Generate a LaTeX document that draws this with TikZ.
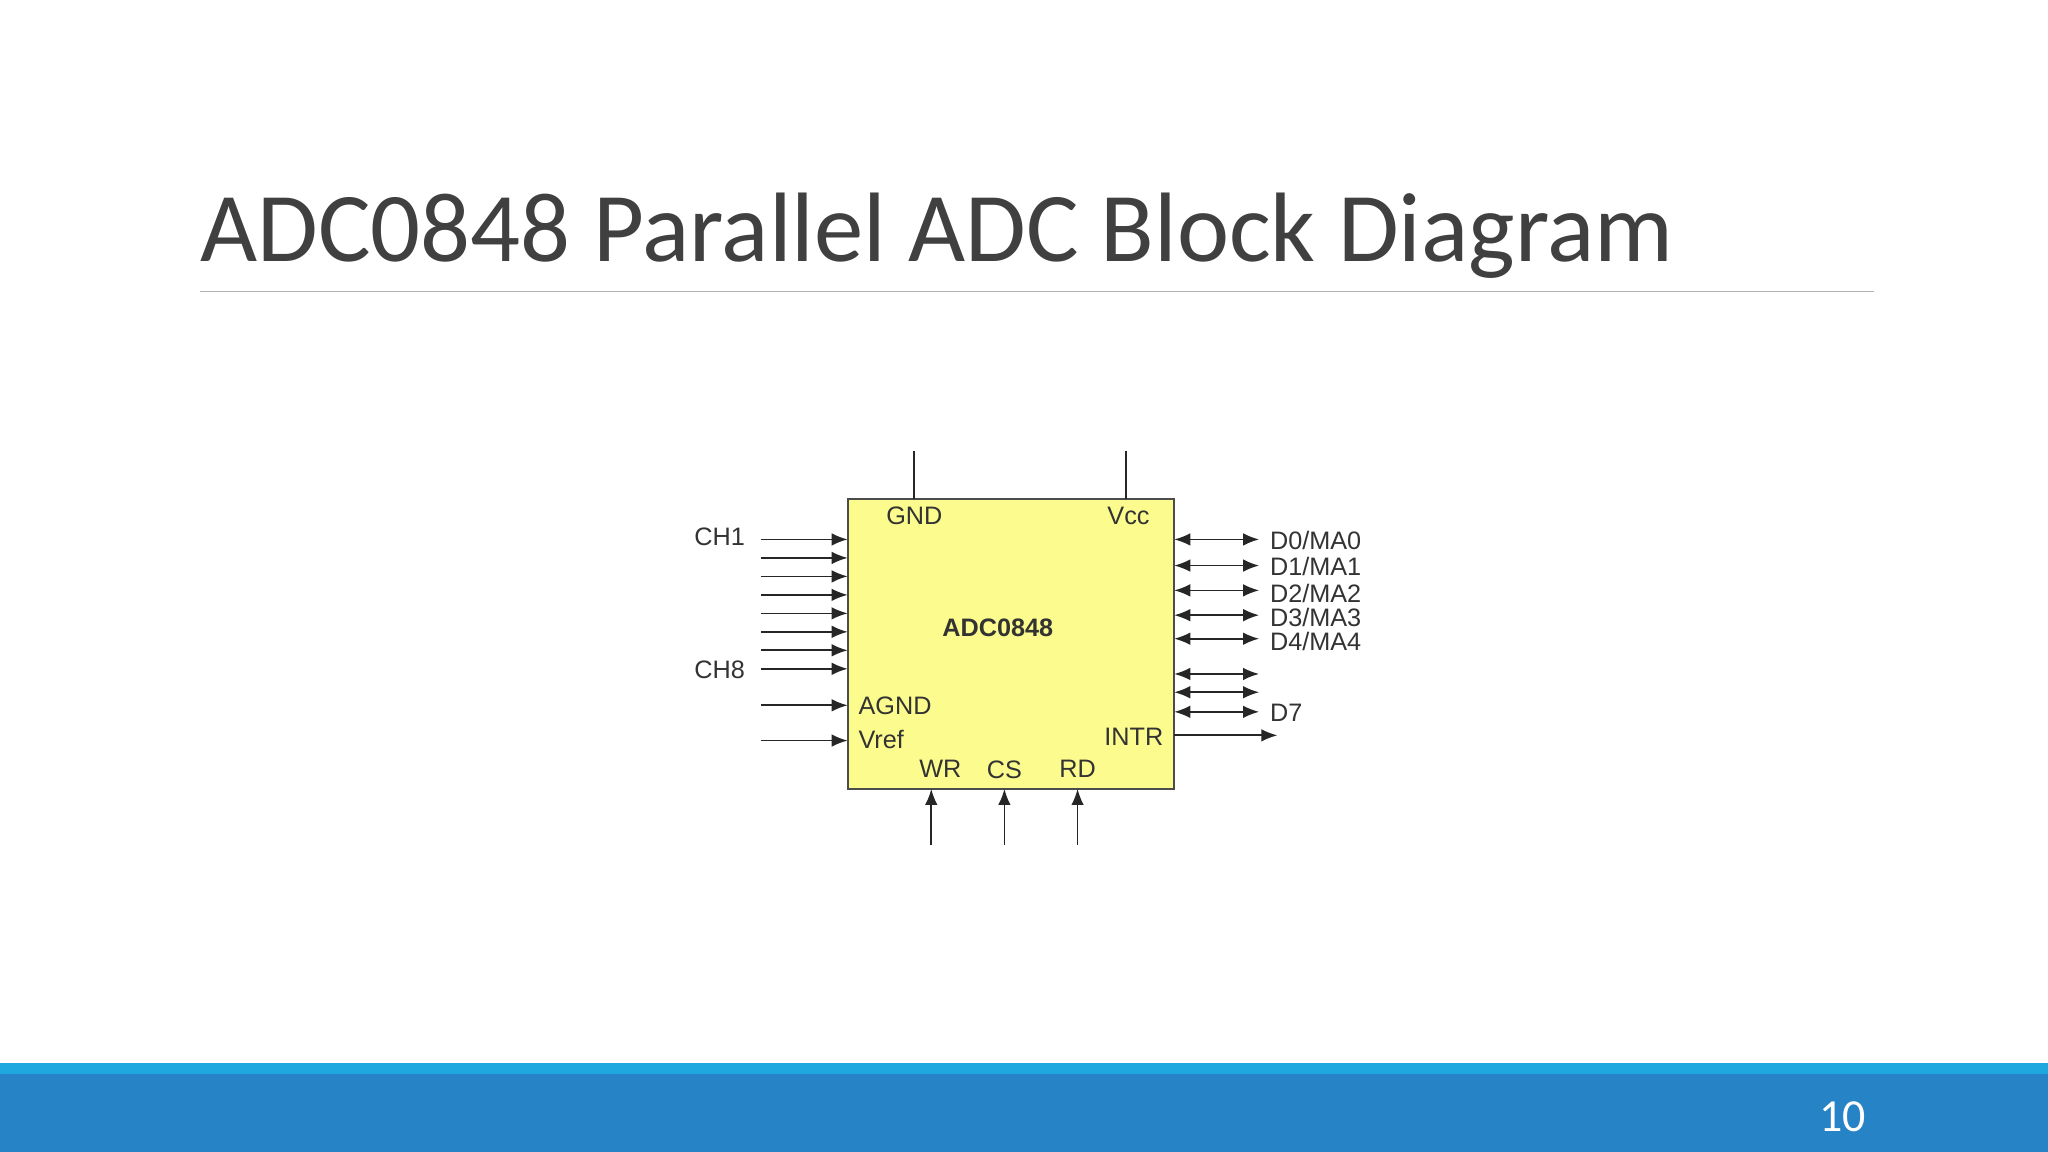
\documentclass[tikz,border=0pt]{standalone}
\usepackage{fontspec}
\setmainfont{Liberation Sans}
\newfontfamily\titlefont{Carlito}
\usetikzlibrary{arrows.meta}
\definecolor{chipy}{HTML}{FCFC8E}
\definecolor{txtg}{HTML}{404040}
\definecolor{lblue}{HTML}{1FA8E0}
\definecolor{dblue}{HTML}{2683C6}
\tikzset{
  pin/.style={draw=black!85, line width=0.75pt},
  inarr/.style={pin, -{Latex[length=7pt,width=5.5pt]}},
  biarr/.style={pin, {Latex[length=7pt,width=5.5pt]}-{Latex[length=7pt,width=5.5pt]}},
  lbl/.style={font=\fontsize{11}{13}\selectfont, text=black!80, inner sep=0pt},
}
\begin{document}
\begin{tikzpicture}[x=0.02cm,y=-0.02cm]
\useasboundingbox (0,0) rectangle (1568,882);
\fill[white] (0,0) rectangle (1568,882);
% title
\node[anchor=base west, inner sep=0pt, text=txtg, font=\titlefont\fontsize{43}{50}\selectfont] (title) at (153,200) {ADC0848 Parallel ADC Block Diagram};
\draw[black!30, line width=0.6pt] (153,223) -- (1435,223);
% bottom bar
\fill[lblue] (0,814) rectangle (1568,822);
\fill[dblue] (0,822) rectangle (1568,882);
\node[text=white, font=\titlefont\fontsize{20}{22}\selectfont, inner sep=0pt] (pg) at (1411,855) {10};
% chip
\draw[fill=chipy, draw=black!70, line width=0.8pt] (649,382) rectangle (899,604);
\node[lbl, font=\bfseries\fontsize{11}{13}\selectfont] (name) at (764,481) {ADC0848};
\node[lbl] (gnd) at (700,395) {GND};
\node[lbl] (vcc) at (864,395) {Vcc};
\node[lbl, anchor=west] (agnd) at (657,540) {AGND};
\node[lbl, anchor=west] (vref) at (657,566) {Vref};
\node[lbl, anchor=east] (intr) at (891,564) {INTR};
\node[lbl] (wr) at (720,589) {WR};
\node[lbl] (cs) at (769,589) {CS};
\node[lbl] (rd) at (825,589) {RD};
% top pins
\coordinate (gt) at (700,345); \coordinate (gb) at (700,382);
\coordinate (vt) at (862,345); \coordinate (vb) at (862,382);
\draw[pin] (gt) -- (gb);
\draw[pin] (vt) -- (vb);
% left inputs
\foreach \i in {0,...,7} {
  \coordinate (ls\i) at (583,{413+14.15*\i});
  \coordinate (le\i) at (649,{413+14.15*\i});
  \draw[inarr] (ls\i) -- (le\i);
}
\node[lbl] (ch1) at (551,411) {CH1};
\node[lbl] (ch8) at (551,513) {CH8};
\coordinate (as) at (583,540); \coordinate (ae) at (649,540);
\coordinate (vs) at (583,567); \coordinate (ve) at (649,567);
\draw[inarr] (as) -- (ae);
\draw[inarr] (vs) -- (ve);
% right data pins
\foreach \y [count=\k] in {413,433,452,471,489,516,530,545} {
  \coordinate (rs\k) at (899,\y);
  \coordinate (re\k) at (964,\y);
  \draw[biarr] (rs\k) -- (re\k);
}
\node[lbl, anchor=west] (d0) at (972,414) {D0/MA0};
\node[lbl, anchor=west] (d1) at (972,434) {D1/MA1};
\node[lbl, anchor=west] (d2) at (972,454) {D2/MA2};
\node[lbl, anchor=west] (d3) at (972,473) {D3/MA3};
\node[lbl, anchor=west] (d4) at (972,491) {D4/MA4};
\node[lbl, anchor=west] (d7) at (972,546) {D7};
\coordinate (is) at (899,563); \coordinate (ie) at (978,563);
\draw[inarr] (is) -- (ie);
% bottom pins
\foreach \x/\n in {713/w,769/c,825/r} {
  \coordinate (\n b) at (\x,647); \coordinate (\n t) at (\x,604);
  \draw[inarr] (\n b) -- (\n t);
}
\end{tikzpicture}
\end{document}
